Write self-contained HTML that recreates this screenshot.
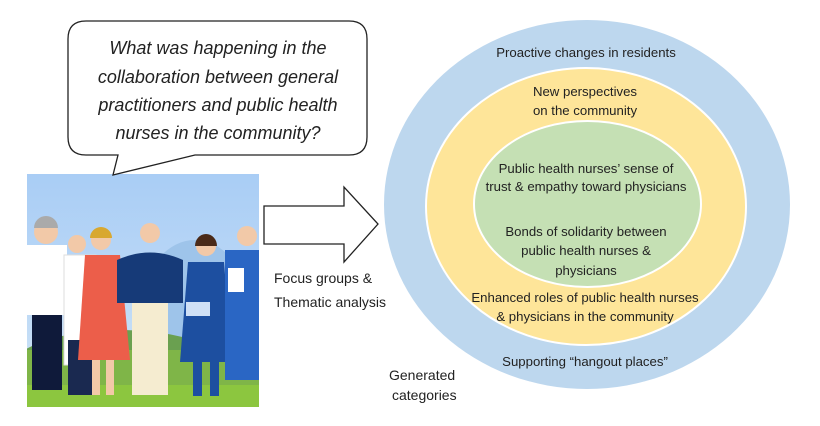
<!DOCTYPE html>
<html><head><style>
body{margin:0;background:#fff;width:820px;height:421px;overflow:hidden;font-family:"Liberation Sans",sans-serif}
</style></head><body>
<svg width="820" height="421" xmlns="http://www.w3.org/2000/svg" font-family="Liberation Sans, sans-serif">
<defs><linearGradient id="sky" x1="0" y1="0" x2="0" y2="1"><stop offset="0" stop-color="#a9cdf5"/><stop offset="1" stop-color="#cfe4f7"/></linearGradient>
<clipPath id="pc"><rect x="27" y="174" width="232" height="233"/></clipPath></defs>
<g clip-path="url(#pc)">
<rect x="27" y="174" width="232" height="233" fill="url(#sky)"/>
<ellipse cx="195" cy="300" rx="50" ry="60" fill="#9ec4ea"/>
<ellipse cx="120" cy="370" rx="110" ry="40" fill="#6aa050"/>
<rect x="27" y="350" width="232" height="57" fill="#7fb548"/>
<rect x="27" y="385" width="232" height="22" fill="#8cc63f"/>
<rect x="32" y="250" width="30" height="140" fill="#0f1a3a"/>
<rect x="27" y="245" width="40" height="70" fill="#fff"/>
<circle cx="46" cy="232" r="12" fill="#f2c9a8"/><path d="M34 228 a12 12 0 0 1 24 0z" fill="#aaa"/>
<rect x="64" y="255" width="32" height="110" fill="#fff" stroke="#ddd"/>
<rect x="68" y="340" width="24" height="55" fill="#1a2950"/>
<circle cx="77" cy="244" r="9" fill="#f2c9a8"/>
<path d="M85 255 h35 l10 105 h-52z" fill="#ec5e4a"/>
<circle cx="101" cy="240" r="10" fill="#f2c9a8"/><path d="M90 238 a11 11 0 0 1 22 0z" fill="#d8a830"/>
<rect x="92" y="360" width="8" height="35" fill="#f2c9a8"/><rect x="106" y="360" width="8" height="35" fill="#f2c9a8"/>
<rect x="132" y="300" width="36" height="95" fill="#f5ecd0"/>
<path d="M117 260 q33 -15 66 0 v43 h-66z" fill="#163a78"/>
<circle cx="150" cy="233" r="10" fill="#f2c9a8"/>
<path d="M188 262 h36 l8 100 h-52z" fill="#1d4fa0"/>
<circle cx="206" cy="246" r="10" fill="#f2c9a8"/><path d="M195 246 a11 12 0 0 1 22 0z" fill="#4a2a18"/>
<rect x="193" y="360" width="9" height="36" fill="#1d4fa0"/><rect x="210" y="360" width="9" height="36" fill="#1d4fa0"/>
<rect x="186" y="302" width="24" height="14" fill="#cfe0f6"/>
<rect x="225" y="250" width="34" height="130" fill="#2a66c4"/>
<circle cx="247" cy="236" r="10" fill="#f2c9a8"/>
<rect x="228" y="268" width="16" height="24" fill="#fff"/>
</g>
<path d="M86 21 H349 Q367 21 367 39 V137 Q367 155 349 155 H195 L113 175 L118 155 H86 Q68 155 68 137 V39 Q68 21 86 21Z" fill="#fff" stroke="#222" stroke-width="1.3"/>
<g font-style="italic" font-size="18" fill="#222" text-anchor="middle">
<text x="218" y="54">What was happening in the</text>
<text x="218" y="83">collaboration between general</text>
<text x="218" y="111">practitioners and public health</text>
<text x="218" y="139">nurses in the community?</text>
</g>
<path d="M264 206 H344 V187 L378 224 L344 262 V244 H264Z" fill="#fff" stroke="#222" stroke-width="1.3"/>
<g font-size="14" fill="#222">
<text x="274" y="283">Focus groups &amp;</text>
<text x="274" y="307">Thematic analysis</text>
<text x="389" y="380">Generated</text>
<text x="392" y="400">categories</text>
</g>
<ellipse cx="587" cy="204.5" rx="203" ry="184.5" fill="#bdd7ee"/>
<ellipse cx="586" cy="206.5" rx="160" ry="138.5" fill="#fee599" stroke="#fff" stroke-width="2"/>
<ellipse cx="587.5" cy="204" rx="113.5" ry="83" fill="#c5e0b4" stroke="#fff" stroke-width="2"/>
<g font-size="13.2" fill="#222" text-anchor="middle">
<text x="586" y="57">Proactive changes in residents</text>
<text x="585" y="96">New perspectives</text>
<text x="585" y="115">on the community</text>
<text x="586" y="173">Public health nurses’ sense of</text>
<text x="586" y="191">trust &amp; empathy toward physicians</text>
<text x="586" y="236">Bonds of solidarity between</text>
<text x="586" y="255">public health nurses &amp;</text>
<text x="586" y="275">physicians</text>
<text x="585" y="302">Enhanced roles of public health nurses</text>
<text x="585" y="321">&amp; physicians in the community</text>
<text x="585" y="366">Supporting “hangout places”</text>
</g>
</svg>
</body></html>
